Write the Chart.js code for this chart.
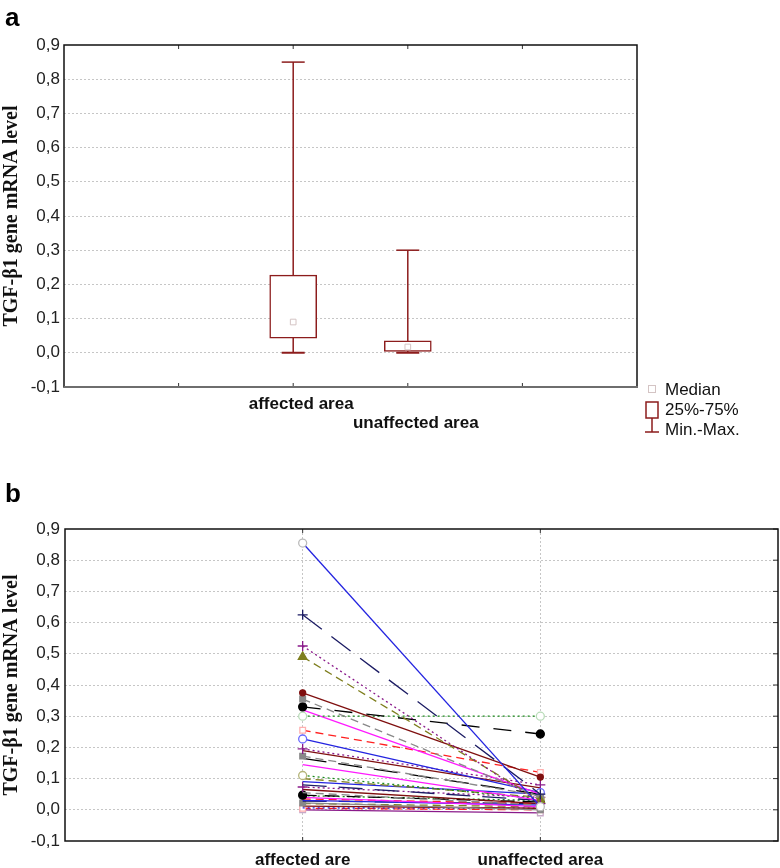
<!DOCTYPE html>
<html>
<head>
<meta charset="utf-8">
<script src="https://cdn.jsdelivr.net/npm/chart.js@4.4.0/dist/chart.umd.min.js"></script>
<style>
  body { margin: 0; background: #fff; width: 780px; height: 868px; position: relative; overflow: hidden; }
  .panel { position: absolute; left: 0; width: 780px; }
  #boxWrap { top: 0; height: 440px; }
  #lineWrap { top: 440px; height: 428px; }
  .tag { position: absolute; left: 5px; font: bold 26px 'Liberation Sans', Arial, sans-serif; line-height: 30px; }
</style>
</head>
<body>
<div class="panel" id="boxWrap"><canvas id="boxChart"></canvas></div>
<div class="panel" id="lineWrap"><canvas id="lineChart"></canvas></div>
<div class="tag" style="top:2px">a</div>
<div class="tag" style="top:478px">b</div>
<script>
// ---- panel a : box plot ----
const boxCategories = ['affected area', 'unaffected area'];
const boxMin    = [0.0,   0.0];
const boxQ1     = [0.043, 0.004];
const boxMedian = [0.09,  0.017];
const boxQ3     = [0.227, 0.035];
const boxMax    = [0.85,  0.30];

// ---- panel b : paired values per patient ----
const pairLabels = ['affected are', 'unaffected area'];
const affected = [0.855, 0.625, 0.525, 0.49, 0.375, 0.355, 0.33, 0.30, 0.32, 0.255,
                  0.227, 0.195, 0.19, 0.172, 0.165, 0.145, 0.11, 0.10, 0.09, 0.08,
                  0.073, 0.065, 0.055, 0.047, 0.045, 0.04, 0.035, 0.03, 0.028, 0.022,
                  0.02, 0.012, 0.006, 0.005, 0.0];
const unaffected = [0.01, 0.05, 0.02, 0.03, 0.105, 0.04, 0.243, 0.30, 0.05, 0.12,
                    0.055, 0.08, 0.07, 0.045, 0.05, 0.03, 0.035, 0.04, 0.05, 0.03,
                    0.04, 0.02, 0.015, 0.025, 0.03, 0.01, 0.02, 0.015, 0.02, 0.0,
                    0.01, 0.005, 0.005, 0.0, -0.01];

const yTicksMin = -0.1, yTicksMax = 0.9, yStep = 0.1;

// styles
const DARKRED = '#8c1c1c';
const blue = '#2424e0', navy = '#1c1c64', purple = '#8a1a8a', olive = '#7f7f1f', dred = '#7f0f0f',
      gray = '#888888', black = '#000000', green = '#1a8a1a', magenta = '#ff1aff', red = '#ff2020';
const SOLID = [], LONG = [24, 12], DOT = [2, 3], DASH = [8, 5], MID = [14, 8];

const lineColors = [blue, navy, purple, olive, dred, gray, black, green, magenta, red,
                    blue, purple, dred, gray, black, magenta, green, olive, blue, navy,
                    purple, dred, gray, black, green, magenta, red, blue, navy, gray,
                    olive, dred, blue, red, purple];
const lineDashes = [SOLID, LONG, DOT, DASH, SOLID, DASH, [18, 14], DOT, SOLID, DASH,
                    SOLID, DOT, SOLID, DASH, LONG, SOLID, DOT, DASH, SOLID, LONG,
                    DOT, SOLID, DASH, MID, DOT, SOLID, DASH, SOLID, LONG, SOLID,
                    DASH, SOLID, DOT, DASH, SOLID];
const markerStyles = ['circle', 'cross', 'cross', 'triangle', 'circle', 'rect', 'circle', 'circle', false, 'rect',
                      'circle', 'cross', false, 'rect', false, false, 'circle', false, false, false,
                      'cross', false, false, 'circle', false, false, false, false, false, 'rect',
                      false, false, false, 'rect', 'rect'];
const markerOpen = [true, false, false, false, false, false, false, true, false, true,
                    true, false, false, false, false, false, true, false, false, false,
                    false, false, false, false, false, false, false, false, false, false,
                    false, false, false, true, true];
const markerEdge = ['#bbbbbb', null, null, null, null, null, null, '#b8dcb8', null, '#ffb0b0',
                    '#6a6aff', null, null, null, null, null, '#b4b478', null, null, null,
                    null, null, null, null, null, null, null, null, null, null,
                    null, null, null, '#ffb0b0', '#c8a8c8'];
const markerSize = [4, 5, 5, 5, 3, 4, 4, 4, 0, 4,
                    4, 5, 0, 4, 0, 0, 4, 0, 0, 0,
                    5, 0, 0, 4, 0, 0, 0, 0, 0, 4,
                    0, 0, 0, 4, 4];

const fmt = v => (Math.round(v * 10) / 10).toFixed(1).replace('.', ',');
const sansFont = "'Liberation Sans', Arial, sans-serif";
const serifFont = "'Liberation Serif', 'Times New Roman', serif";

// frame + inner tick marks, positions from the scales
const framePlugin = {
  id: 'frame',
  afterDatasetsDraw(chart, args, o) {
    const ctx = chart.ctx, a = chart.chartArea, xs = chart.scales.x, ys = chart.scales.y;
    const seg = (x1, y1, x2, y2) => { ctx.beginPath(); ctx.moveTo(x1, y1); ctx.lineTo(x2, y2); ctx.stroke(); };
    ctx.save();
    ctx.strokeStyle = '#333'; ctx.lineWidth = 1;
    xs.ticks.forEach((t, i) => {
      const px = xs.getPixelForTick(i);
      if (px < a.left + 2 || px > a.right - 2) return;
      seg(px, a.bottom, px, a.bottom - 4);
      seg(px, a.top, px, a.top + 4);
    });
    if (o.rightTicks) {
      ys.ticks.forEach((t, i) => { const py = ys.getPixelForTick(i); seg(a.right, py, a.right - 5, py); });
    }
    ctx.strokeStyle = o.color || '#111';
    ctx.lineWidth = 1.5;
    ctx.strokeRect(a.left, a.top, a.right - a.left, a.bottom - a.top);
    if (o.bottomColor) {
      ctx.strokeStyle = o.bottomColor; ctx.lineWidth = 2.2;
      seg(a.left, a.bottom, a.right + 1, a.bottom);
    }
    ctx.restore();
  }
};

// legend for panel a
const boxLegend = {
  id: 'boxLegend',
  afterDraw(chart) {
    const ctx = chart.ctx;
    const x = chart.chartArea.right + 15;
    ctx.save();
    ctx.lineWidth = 1;
    ctx.strokeStyle = '#d4c4c4';
    ctx.strokeRect(x - 3.5, 385.5, 7, 7);
    ctx.strokeStyle = DARKRED; ctx.lineWidth = 1.5;
    ctx.strokeRect(x - 6, 402, 12, 16);
    ctx.beginPath(); ctx.moveTo(x, 418); ctx.lineTo(x, 432); ctx.moveTo(x - 7, 432); ctx.lineTo(x + 7, 432); ctx.stroke();
    ctx.fillStyle = '#111';
    ctx.font = '17px ' + sansFont;
    ctx.textBaseline = 'middle';
    ctx.fillText('Median', x + 13, 390);
    ctx.fillText('25%-75%', x + 13, 410);
    ctx.fillText('Min.-Max.', x + 13, 430);
    ctx.restore();
  }
};

const yAxis = (width, pad) => ({
  type: 'linear', min: yTicksMin, max: yTicksMax,
  afterFit: s => { s.width = width; },
  ticks: { stepSize: yStep, callback: v => fmt(v), padding: pad, color: '#222', font: { family: sansFont, size: 17 } },
  grid: { drawTicks: false, color: c => (c.index === 0 || c.index === 10) ? 'transparent' : '#c6c6c6', lineWidth: 1 },
  border: { display: false, dash: [2, 2] },
  title: { display: true, text: 'TGF-β1 gene mRNA level', color: '#111', padding: { top: 0, bottom: 0 },
           font: { family: serifFont, size: 20, weight: 'bold' } }
});

// fixed x axis height, no extra side padding from the labels
const xFit = h => s => { s.height = h; s.paddingLeft = 0; s.paddingRight = 0; };

// ---- chart a ----
const boxSlots = ['', ''].concat(boxCategories, ['', '']);
const catIndex = s => boxCategories.indexOf(s);
const datasetsA = [];
boxCategories.forEach((c, k) => {
  datasetsA.push({ type: 'line', order: 3, data: [{ x: c, y: boxMin[k] }, { x: c, y: boxMax[k] }],
                   borderColor: DARKRED, borderWidth: 1.5, pointRadius: 0 });
});
datasetsA.push({ type: 'bar', order: 2,
  data: boxSlots.map(s => catIndex(s) >= 0 ? [boxQ1[catIndex(s)], boxQ3[catIndex(s)]] : null),
  backgroundColor: '#ffffff', borderColor: DARKRED, borderWidth: 1.5, borderSkipped: false, barThickness: 47 });
datasetsA.push({ type: 'line', order: 1, showLine: false,
  data: boxSlots.map(s => catIndex(s) >= 0 ? boxMax[catIndex(s)] : null),
  pointStyle: 'line', pointRadius: 11.5, pointBorderColor: DARKRED, pointBorderWidth: 1.5 });
datasetsA.push({ type: 'line', order: 1, showLine: false,
  data: boxSlots.map(s => catIndex(s) >= 0 ? boxMin[catIndex(s)] : null),
  pointStyle: 'line', pointRadius: 11.5, pointBorderColor: DARKRED, pointBorderWidth: 2 });
datasetsA.push({ type: 'line', order: 0, showLine: false,
  data: boxSlots.map(s => catIndex(s) >= 0 ? boxMedian[catIndex(s)] : null),
  pointStyle: 'rect', pointRadius: 4, pointBackgroundColor: '#ffffff', pointBorderColor: '#d4c4c4', pointBorderWidth: 1 });

new Chart(document.getElementById('boxChart'), {
  type: 'bar',
  data: { labels: boxSlots, datasets: datasetsA },
  options: {
    responsive: true, maintainAspectRatio: false, animation: false,
    layout: { autoPadding: false, padding: { top: 45, right: 143, left: 0, bottom: 0 } },
    plugins: { legend: { display: false }, tooltip: { enabled: false }, frame: { bottomColor: '#6e6e6e' } },
    scales: {
      x: {
        type: 'category', offset: false,
        afterFit: xFit(53),
        grid: { display: false, drawTicks: false },
        border: { display: false },
        ticks: {
          autoSkip: false, maxRotation: 0, padding: 8, labelOffset: 8, color: '#111',
          font: { family: sansFont, size: 17, weight: 'bold', lineHeight: 1.1 },
          callback: (v, i) => {
            const k = catIndex(boxSlots[i]);
            if (k < 0) return '';
            return k % 2 === 0 ? [boxSlots[i], ''] : ['', boxSlots[i]];
          }
        }
      },
      y: yAxis(64, 4)
    }
  },
  plugins: [framePlugin, boxLegend]
});

// ---- chart b ----
const pairSlots = [''].concat(pairLabels, ['']);
const datasetsB = affected.map((v, i) => {
  const r = markerStyles[i] ? markerSize[i] : 0;
  const edge = markerEdge[i] || lineColors[i];
  return {
    data: [null, v, unaffected[i], null],
    borderColor: lineColors[i], borderDash: lineDashes[i], borderWidth: 1.3,
    pointStyle: markerStyles[i] || 'circle', pointRadius: r,
    pointBorderColor: edge, pointBorderWidth: 1.3,
    pointBackgroundColor: markerOpen[i] ? '#ffffff' : lineColors[i]
  };
});

new Chart(document.getElementById('lineChart'), {
  type: 'line',
  data: { labels: pairSlots, datasets: datasetsB },
  options: {
    responsive: true, maintainAspectRatio: false, animation: false,
    elements: { line: { tension: 0 } },
    layout: { autoPadding: false, padding: { top: 89, right: 2, left: 0, bottom: 0 } },
    plugins: { legend: { display: false }, tooltip: { enabled: false }, frame: { rightTicks: true } },
    scales: {
      x: {
        type: 'category', offset: false,
        afterFit: xFit(27),
        grid: { drawTicks: false, color: c => (c.index === 1 || c.index === 2) ? '#c6c6c6' : 'transparent' },
        border: { display: false, dash: [2, 2] },
        ticks: { autoSkip: false, maxRotation: 0, padding: 10, color: '#111',
                 font: { family: sansFont, size: 17, weight: 'bold', lineHeight: 1.1 } }
      },
      y: yAxis(65, 5)
    }
  },
  plugins: [framePlugin]
});
</script>
</body>
</html>
